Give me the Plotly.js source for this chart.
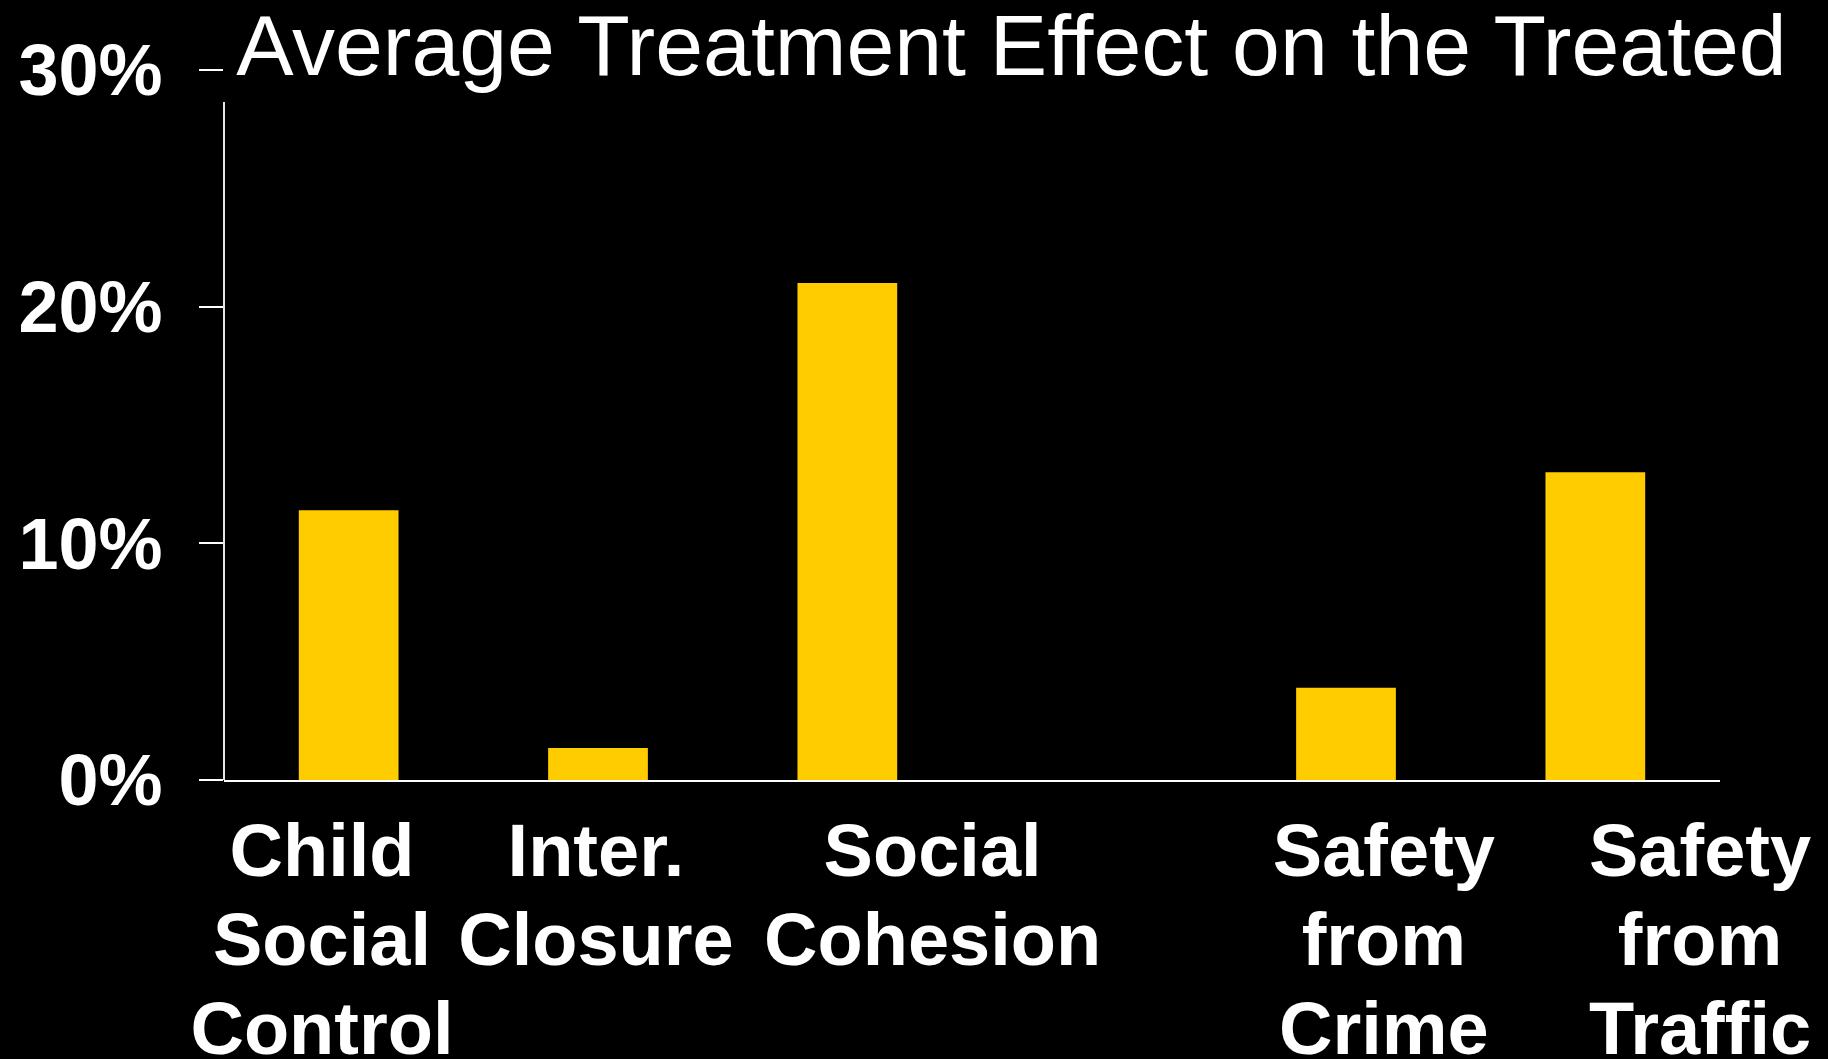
<!DOCTYPE html>
<html>
<head>
<meta charset="utf-8">
<script src="https://cdn.plot.ly/plotly-3.0.1.min.js"></script>
<style>
  html, body { margin: 0; padding: 0; background: #000; }
  #chart { width: 1828px; height: 1059px; }
</style>
</head>
<body>
<div id="chart"></div>
<script>
// ---- data ----
const categories = ['Child Social Control', 'Inter. Closure', 'Social Cohesion', 'Safety from Crime', 'Safety from Traffic'];
const values = [11.4, 1.35, 21.0, 3.9, 13.0];
const labelWords = [['Child', 'Social', 'Control'], ['Inter.', 'Closure'], ['Social', 'Cohesion'], ['Safety', 'from', 'Crime'], ['Safety', 'from', 'Traffic']];
const yTickVals = [0, 10, 20, 30];
const yTickText = ['0%', '10%', '20%', '30%'];
const titleText = 'Average Treatment Effect on the Treated';

// ---- layout helpers ----
const gapSlot = ' \u2009';  // empty slot between Social Cohesion and Safety from Crime
const slotOrder = [categories[0], categories[1], categories[2], gapSlot, categories[3], categories[4]];
// label text-box centres on the slot scale (slot i centred at i)
const labelCentres = [-0.107, 0.992, 2.342, 4.152, 5.42];
// glyphs drawn at 74px while line pitch follows the 68.5px base font (tighter leading, as in the slide)
const labelText = labelWords.map(ws => ws.map(w => '<span style="font-size:74px">' + w + '</span>').join('<br>'));

const FONT = '"Liberation Sans", Arial, Helvetica, sans-serif';

const traces = [{
  type: 'bar',
  x: categories,
  y: values,
  width: 0.4,
  marker: { color: '#FFCC00', line: { width: 0 } },
  hoverinfo: 'x+y',
  showlegend: false
}, {
  // invisible carrier so the label axis is drawn
  type: 'scatter',
  mode: 'markers',
  x: labelCentres,
  y: labelCentres.map(() => 0),
  xaxis: 'x2',
  yaxis: 'y',
  marker: { opacity: 0, size: 1 },
  hoverinfo: 'skip',
  showlegend: false
}];

const layout = {
  width: 1828,
  height: 1059,
  paper_bgcolor: '#000000',
  plot_bgcolor: '#000000',
  margin: { l: 224, r: 108, t: 70, b: 279, pad: 0 },
  font: { family: FONT, color: '#ffffff' },
  title: {
    text: titleText,
    font: { family: FONT, size: 86, color: '#ffffff' },
    xref: 'container', yref: 'container',
    x: 0.5533, xanchor: 'center',
    y: 0.9575, yanchor: 'middle'
  },
  xaxis: {
    type: 'category',
    categoryorder: 'array',
    categoryarray: slotOrder,
    range: [-0.5, 5.5],
    showticklabels: false,
    ticks: '',
    showgrid: false,
    zeroline: false,
    showline: true,
    linecolor: '#ffffff',
    linewidth: 2
  },
  xaxis2: {
    overlaying: 'x',
    anchor: 'y',
    side: 'bottom',
    type: 'linear',
    range: [-0.5, 5.5],
    autorange: false,
    tickmode: 'array',
    tickvals: labelCentres,
    ticktext: labelText,
    ticks: '',
    showticklabels: true,
    showgrid: false,
    zeroline: false,
    showline: false,
    ticklabelstandoff: 26,
    tickfont: { family: FONT, size: 68.5, color: '#ffffff', weight: 'bold' }
  },
  yaxis: {
    range: [0, 30],
    tickmode: 'array',
    tickvals: yTickVals,
    ticktext: yTickText,
    ticks: 'outside',
    ticklen: 24,
    tickwidth: 2,
    tickcolor: '#ffffff',
    showgrid: false,
    zeroline: false,
    showline: false,
    ticklabelstandoff: 22,
    tickfont: { family: FONT, size: 72, color: '#ffffff', weight: 'bold' }
  },
  shapes: [{
    type: 'line', xref: 'paper', yref: 'paper',
    x0: 0, x1: 0, y0: 0, y1: 0.955,
    line: { color: '#e6e6e6', width: 2 }
  }],
  bargap: 0.6
};

Plotly.newPlot('chart', traces, layout, { displayModeBar: false, staticPlot: true });
</script>
</body>
</html>
